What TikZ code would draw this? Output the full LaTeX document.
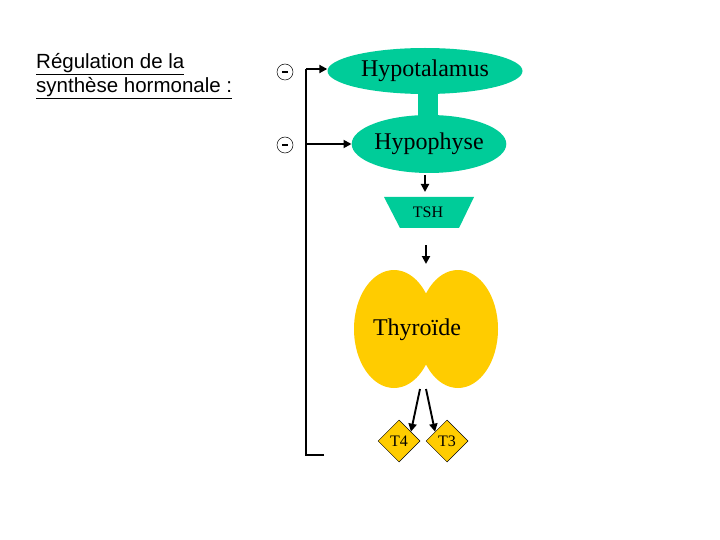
\documentclass[tikz,border=0pt]{standalone}
\usepackage{fontspec}
\setmainfont{Liberation Serif}
\newfontfamily\titlefont{Liberation Sans}
\usetikzlibrary{shapes.geometric,arrows.meta,calc}
\definecolor{tealc}{RGB}{0,204,153}
\definecolor{yellowc}{RGB}{255,204,0}
\newcommand{\ulin}[1]{\underline{#1}}
\begin{document}
\begin{tikzpicture}[x=1pt,y=-1pt,
  arr/.style={line width=1.9pt,-{Triangle[length=8pt,width=8pt]}},
  fbline/.style={line width=1.9pt},
  organ/.style={ellipse,inner sep=0pt,draw=none},
  biglbl/.style={font=\fontsize{24}{28}\selectfont},
  smalllbl/.style={font=\fontsize{16}{18}\selectfont},
  hormone/.style={diamond,fill=yellowc,draw=black,line width=0.5pt,minimum size=42pt,inner sep=0pt,font=\fontsize{16}{18}\selectfont},
  minusc/.style={circle,draw=black,line width=0.5pt,minimum size=16pt,inner sep=0pt}]
\useasboundingbox (0,0) rectangle (720,540);
\fill[white] (0,0) rectangle (720,540);
% title
\node[anchor=north west,inner sep=0pt,align=left,font=\titlefont\fontsize{20.5}{24}\selectfont] (title) at (36,53)
  {\ulin{Régulation de la}\\\ulin{synthèse hormonale :}};
% stem
\fill[tealc] (418,90) rectangle (438,122);
\node[organ,fill=tealc,minimum width=195pt,minimum height=46pt,biglbl] (hypo) at (425,71) {Hypotalamus};
\node[organ,fill=tealc,minimum width=128pt,minimum height=58pt,biglbl] (hyph) at (429,144) {Hypophyse};
% TSH trapezoid
\fill[tealc] (384,197) -- (474,197) -- (459,228) -- (400,228) -- cycle;
\node[minimum width=90pt,minimum height=31pt,inner sep=0pt,smalllbl] (tsh) at (428,212.5) {TSH};
% thyroid
\node[organ,fill=yellowc,minimum width=80pt,minimum height=118pt] (thl) at (394,329) {};
\node[organ,fill=yellowc,minimum width=80pt,minimum height=118pt] (thr) at (458,329) {};
\node[biglbl,inner sep=0pt] (thy) at (417,330) {Thyroïde};
% hormones
\node[hormone] (t4) at (399,441) {T4};
\node[hormone] (t3) at (447,441) {T3};
% arrows
\coordinate (a1s) at (425,175);
\coordinate (a1e) at (425,192);
\draw[arr] (a1s) -- (a1e);
\coordinate (a2s) at (426,245);
\coordinate (a2e) at (426,264);
\draw[arr] (a2s) -- (a2e);
\coordinate (a3s) at (420,389);
\coordinate (a4s) at (426,389);
\draw[arr] (a3s) -- ($(t4.north east)!0.5!(t4.east)+(-4,-4)$);
\draw[arr] (a4s) -- ($(t3.north west)!0.5!(t3.west)+(4,-4)$);
% feedback
\coordinate (fbb) at (324,455);
\coordinate (fbc) at (306,455);
\coordinate (fbt) at (306,69);
\coordinate (fbm) at (306,144);
\draw[fbline] (fbb) -- (fbc) -- (fbt);
\draw[arr] (fbt) -- (fbt -| hypo.west);
\draw[arr] (fbm) -- (fbm -| hyph.west);
% minus signs
\node[minusc] (m1) at (285,72) {\rule{6pt}{1.6pt}};
\node[minusc] (m2) at (285,145) {\rule{6pt}{1.6pt}};
\end{tikzpicture}
\end{document}
